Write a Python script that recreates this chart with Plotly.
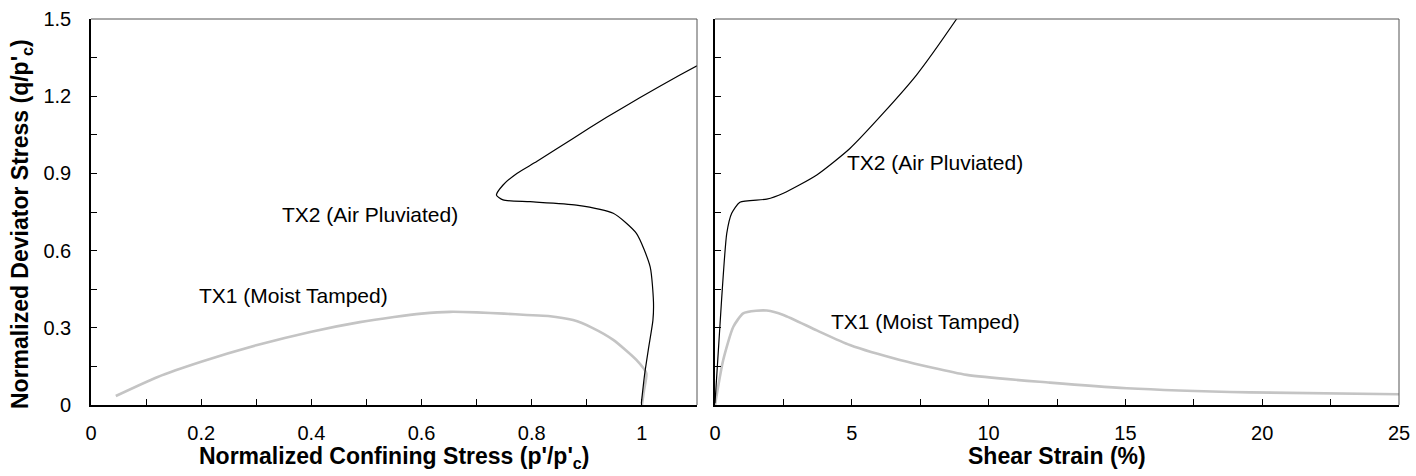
import plotly.graph_objects as go

# ---- data ----
# Left panel: stress path (p'/p'c, q/p'c)
tx1_p = [1.000, 1.004, 1.008, 0.990, 0.948, 0.910, 0.875, 0.830, 0.791, 0.750, 0.700, 0.652, 0.600, 0.550, 0.488, 0.400, 0.300, 0.200, 0.120, 0.045]
tx1_q = [0.000, 0.060, 0.123, 0.175, 0.253, 0.300, 0.330, 0.346, 0.350, 0.355, 0.360, 0.362, 0.355, 0.342, 0.322, 0.285, 0.232, 0.168, 0.108, 0.035]

tx2_p = [0.999, 1.005, 1.012, 1.020, 1.021, 1.015, 0.990, 0.948, 0.881, 0.797, 0.748, 0.736, 0.748, 0.773, 0.809, 0.875, 0.936, 0.996, 1.069, 1.100]
tx2_q = [0.007, 0.120, 0.220, 0.330, 0.400, 0.537, 0.667, 0.745, 0.777, 0.790, 0.797, 0.816, 0.855, 0.900, 0.946, 1.036, 1.118, 1.194, 1.282, 1.318]

# Right panel: stress-strain (shear strain %, q/p'c)
tx1_e = [0.0, 0.30, 0.67, 1.03, 1.50, 1.89, 2.50, 3.72, 4.93, 6.76, 9.20, 12.24, 15.05, 19.55, 25.0]
tx1_qe = [0.0, 0.175, 0.304, 0.356, 0.366, 0.367, 0.350, 0.290, 0.233, 0.175, 0.117, 0.087, 0.065, 0.049, 0.042]

tx2_e = [0.0, 0.24, 0.43, 0.61, 0.91, 1.89, 2.50, 3.72, 4.93, 6.15, 7.37, 8.83, 9.20]
tx2_qe = [0.007, 0.408, 0.667, 0.745, 0.788, 0.800, 0.823, 0.894, 0.997, 1.134, 1.283, 1.500, 1.560]

y_ticks = [0, 0.3, 0.6, 0.9, 1.2, 1.5]
y_tick_text = ["0", "0.3", "0.6", "0.9", "1.2", "1.5"]
x1_ticks = [0, 0.2, 0.4, 0.6, 0.8, 1.0]
x1_tick_text = ["0", "0.2", "0.4", "0.6", "0.8", "1"]
x2_ticks = [0, 5, 10, 15, 20, 25]

GRAY = "#c4c4c4"
FONT = "Liberation Sans, Arial, sans-serif"

fig = go.Figure()
fig.add_trace(go.Scatter(x=tx1_p, y=tx1_q, mode="lines", line=dict(color=GRAY, width=2.6, shape="spline", smoothing=0.6), xaxis="x", yaxis="y", showlegend=False))
fig.add_trace(go.Scatter(x=tx2_p, y=tx2_q, mode="lines", line=dict(color="black", width=1.2, shape="spline", smoothing=0.6), xaxis="x", yaxis="y", showlegend=False))
fig.add_trace(go.Scatter(x=tx1_e, y=tx1_qe, mode="lines", line=dict(color=GRAY, width=2.6, shape="spline", smoothing=0.6), xaxis="x2", yaxis="y2", showlegend=False))
fig.add_trace(go.Scatter(x=tx2_e, y=tx2_qe, mode="lines", line=dict(color="black", width=1.2, shape="spline", smoothing=0.6), xaxis="x2", yaxis="y2", showlegend=False))

W, H = 1416, 476
L1, R1, L2, R2, TOP, BOT = 91, 697, 715, 1399, 19, 405
dx1 = [L1 / W, R1 / W]
dx2 = [L2 / W, R2 / W]
dy = [1 - BOT / H, 1 - TOP / H]

axis_common = dict(showgrid=False, zeroline=False, showline=True, linecolor="black", linewidth=1.6,
                   ticks="inside", ticklen=6, tickwidth=1, tickcolor="black", automargin=False,
                   tickfont=dict(family=FONT, size=20, color="black"))

fig.update_layout(
    width=W, height=H, margin=dict(l=0, r=0, t=0, b=0),
    paper_bgcolor="white", plot_bgcolor="white",
    xaxis=dict(domain=dx1, range=[0, 1.1], anchor="y", tickvals=x1_ticks, ticktext=x1_tick_text,
               minor=dict(ticks="inside", ticklen=6, dtick=0.1, tick0=0, tickcolor="black"),
               ticklabelstandoff=9, **axis_common),
    yaxis=dict(domain=dy, range=[0, 1.5], anchor="x", tickvals=y_ticks, ticktext=y_tick_text,
               minor=dict(ticks="inside", ticklen=6, dtick=0.15, tick0=0, tickcolor="black"),
               ticklabelstandoff=14, **axis_common),
    xaxis2=dict(domain=dx2, range=[0, 25], anchor="y2", tickvals=x2_ticks,
                minor=dict(ticks="inside", ticklen=6, dtick=2.5, tick0=0, tickcolor="black"),
                ticklabelstandoff=9, **axis_common),
    yaxis2=dict(domain=dy, range=[0, 1.5], anchor="x2", tickvals=y_ticks, showticklabels=False,
                minor=dict(ticks="inside", ticklen=6, dtick=0.15, tick0=0, tickcolor="black"),
                **axis_common),
)

# top/right frame lines
for xd in (dx1, dx2):
    fig.add_shape(type="line", xref="paper", yref="paper", x0=xd[0], x1=xd[1], y0=dy[1], y1=dy[1], line=dict(color="#555555", width=1))
    fig.add_shape(type="line", xref="paper", yref="paper", x0=xd[1], x1=xd[1], y0=dy[0], y1=dy[1], line=dict(color="#555555", width=1))

lab_font = dict(family=FONT, size=21, color="black")
fig.add_annotation(x=0.506, y=0.742, xref="x", yref="y", text="TX2 (Air Pluviated)", showarrow=False, font=lab_font)
fig.add_annotation(x=0.368, y=0.424, xref="x", yref="y", text="TX1 (Moist Tamped)", showarrow=False, font=lab_font)
fig.add_annotation(x=8.04, y=0.944, xref="x2", yref="y2", text="TX2 (Air Pluviated)", showarrow=False, font=lab_font)
fig.add_annotation(x=7.68, y=0.326, xref="x2", yref="y2", text="TX1 (Moist Tamped)", showarrow=False, font=lab_font)

title_font = dict(family=FONT, size=23, color="black")
fig.add_annotation(x=(dx1[0] + dx1[1]) / 2, y=1 - 457 / H, xref="paper", yref="paper",
                   text="<b>Normalized Confining Stress (p'/p'<sub>c</sub>)</b>", showarrow=False, font=title_font,
                   xanchor="center", yanchor="middle")
fig.add_annotation(x=(dx2[0] + dx2[1]) / 2, y=1 - 456 / H, xref="paper", yref="paper",
                   text="<b>Shear Strain (%)</b>", showarrow=False, font=title_font, xanchor="center", yanchor="middle")
fig.add_annotation(x=21 / W, y=1 - 224 / H, xref="paper", yref="paper", textangle=-90,
                   text="<b>Normalized Deviator Stress (q/p'<sub>c</sub>)</b>", showarrow=False, font=title_font,
                   xanchor="center", yanchor="middle")

fig.write_html("out.html")
